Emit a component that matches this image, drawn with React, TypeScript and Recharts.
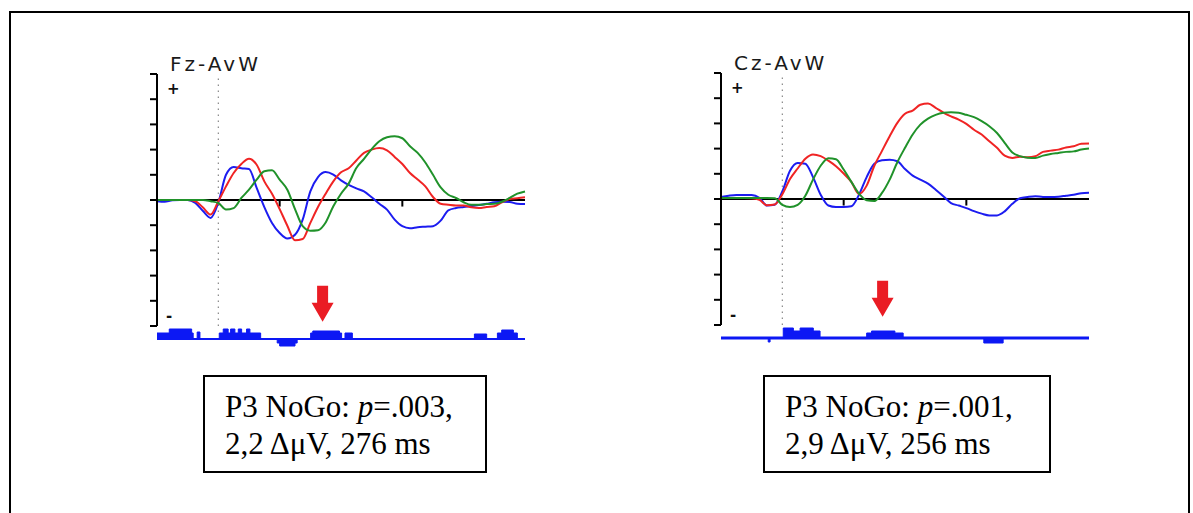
import { Area, AreaChart, Line, LineChart, ReferenceDot, ReferenceLine, XAxis, YAxis } from "recharts";

// time axis (ms) shared by every trace
const times = [
  -200, -175, -150, -125, -100, -75, -50, -25, 0, 25, 50, 75, 100, 125, 150, 175, 200, 225, 250, 275, 300, 325, 350, 375,
  400, 425, 450, 475, 500, 525, 550, 575, 600, 625, 650, 675, 700, 725, 750, 775, 800, 825, 850, 875, 900, 925, 950, 975, 1000,
];

// Fz-AvW (µV)
const fzBlue = [
  -0.05, -0.07, -0.01, 0, 0, -0.12, -0.44, -0.71, -0.1, 1.0, 1.31, 1.26, 1.23, 0.48, -0.28, -0.91, -1.31, -1.53, -1.38, -0.78,
  0.34, 0.91, 1.11, 1.01, 0.78, 0.6, 0.46, 0.34, 0.11, -0.15, -0.38, -0.78, -1.04, -1.12, -1.08, -1.06, -1.04, -0.82, -0.41,
  -0.32, -0.28, -0.24, -0.2, -0.15, -0.09, -0.07, -0.08, -0.15, -0.16,
];
const fzRed = [
  0, 0, 0, 0, 0, -0.05, -0.3, -0.58, -0.05, 0.54, 1.07, 1.43, 1.64, 1.4, 0.74, 0.25, -0.36, -1.02, -1.6, -1.55, -0.91, -0.28,
  0.25, 0.74, 1.1, 1.26, 1.57, 1.87, 2.0, 2.06, 1.97, 1.71, 1.43, 1.07, 0.81, 0.54, 0.12, -0.15, -0.19, -0.22, -0.22, -0.29,
  -0.32, -0.28, -0.25, -0.09, 0.04, 0.07, 0.11,
];
const fzGreen = [
  0, 0, 0, 0, 0, 0, 0, -0.05, -0.12, -0.38, -0.32, 0.08, 0.41, 0.81, 1.14, 1.18, 0.81, 0.41, -0.36, -1.04, -1.22, -1.2, -0.89,
  -0.25, 0.25, 0.65, 1.27, 1.63, 2.02, 2.33, 2.49, 2.53, 2.45, 2.13, 1.87, 1.49, 1.0, 0.5, 0.21, 0.08, -0.09, -0.19, -0.19,
  -0.16, -0.15, -0.07, 0.08, 0.25, 0.34,
];

// Cz-AvW (µV)
const czBlue = [
  0.08, 0.13, 0.16, 0.16, 0.16, 0.05, -0.26, -0.23, 0.3, 1.12, 1.43, 1.4, 0.87, 0.17, -0.26, -0.32, -0.32, -0.29, 0.17, 0.87,
  1.4, 1.54, 1.56, 1.5, 1.19, 0.93, 0.77, 0.61, 0.37, 0.11, -0.16, -0.26, -0.36, -0.48, -0.58, -0.65, -0.65, -0.49, -0.19,
  0.03, 0.08, 0.11, 0.08, 0.08, 0.09, 0.13, 0.17, 0.23, 0.25,
];
const czRed = [
  0.04, 0.04, 0.04, 0.04, 0.03, -0.03, -0.25, -0.22, 0.19, 0.79, 1.21, 1.6, 1.77, 1.7, 1.52, 1.3, 1.01, 0.68, 0.2, 0.53, 1.32,
  1.91, 2.49, 3.02, 3.38, 3.51, 3.74, 3.79, 3.62, 3.43, 3.28, 3.15, 2.98, 2.75, 2.56, 2.29, 2.03, 1.72, 1.63, 1.68, 1.66, 1.7,
  1.87, 1.92, 1.96, 2.04, 2.09, 2.19, 2.2,
];
const czGreen = [
  0.04, 0.04, 0.04, 0.04, 0.04, 0.04, 0.04, 0.03, -0.23, -0.32, -0.23, 0.13, 0.77, 1.32, 1.62, 1.58, 1.17, 0.68, 0.21, -0.05,
  -0.08, 0.24, 0.77, 1.46, 2.03, 2.56, 2.95, 3.19, 3.34, 3.42, 3.44, 3.42, 3.34, 3.25, 3.09, 2.89, 2.62, 2.23, 1.85, 1.7, 1.64,
  1.63, 1.72, 1.79, 1.83, 1.87, 1.89, 1.96, 2.0,
];

// significance strips under the plots (step levels)
const fzSigTimes = [
  -200, -160, -87, -82, -69, -60, 3, 16, 32, 40, 54, 65, 76, 92, 103, 138, 192, 200, 250, 257, 301, 308, 395, 402, 413, 437,
  835, 875, 910, 924, 962, 975, 1000,
];
const fzSigLevels = [6, 10, 6, 0, 7, 0, 6, 10, 6, 10, 6, 10, 6, 10, 6, 0, -4, -7, -4, 0, 6, 8, 6, 0, 6, 0, 5, 0, 6, 9, 6, 0, 0];
const czSigTimes = [-200, -46, -40, 3, 36, 58, 101, 123, 275, 291, 367, 394, 657, 720, 1000];
const czSigLevels = [0, -4, 0, 10, 7, 10, 7, 0, 5, 7, 5, 0, -5, 0, 0];

const voltTicks = [-5, -4, -3, -2, -1, 0, 1, 2, 3, 4, 5];
const timeTicks = [200, 600];

const RED = "#f02424";
const GREEN = "#20922a";
const BLUE = "#1c1cf0";
const SIG = "#0c18f4";

const Arrow = ({ cx, cy }: { cx?: number; cy?: number }) => {
  if (cx == null || cy == null) return null;
  const pts = [
    [cx, cy],
    [cx - 11, cy - 19],
    [cx - 5.5, cy - 19],
    [cx - 5.5, cy - 36],
    [cx + 5.5, cy - 36],
    [cx + 5.5, cy - 19],
    [cx + 11, cy - 19],
  ];
  return <polygon points={pts.map((p) => p.join(",")).join(" ")} fill="#ea1c24" />;
};

const signStyle = {
  position: "absolute" as const,
  fontFamily: "'DejaVu Sans', sans-serif",
  fontSize: 15,
  fontWeight: 700,
  lineHeight: "15px",
  color: "#111",
  zIndex: 2,
};

function ErpPanel({
  left,
  top,
  title,
  blue,
  red,
  green,
  sigTimes,
  sigLevels,
  sigWidth,
  arrowTime,
  arrowTip,
}: {
  left: number;
  top: number;
  title: string;
  blue: number[];
  red: number[];
  green: number[];
  sigTimes: number[];
  sigLevels: number[];
  sigWidth: number;
  arrowTime: number;
  arrowTip: number;
}) {
  const data = times.map((t, i) => ({ t, blue: blue[i], red: red[i], green: green[i] }));
  const sig = sigTimes.map((t, i) => ({ t, level: sigLevels[i] }));
  return (
    <>
      <div
        style={{
          position: "absolute",
          left: left + 13,
          top: top - 20,
          fontFamily: "'DejaVu Sans', sans-serif",
          fontSize: 20,
          lineHeight: "20px",
          letterSpacing: 3,
          color: "#1a1a1a",
          whiteSpace: "nowrap",
        }}
      >
        {title}
      </div>
      <div style={{ ...signStyle, left: left + 10, top: top + 8 }}>+</div>
      <div style={{ ...signStyle, left: left + 9, top: top + 235 }}>-</div>
      <div style={{ position: "absolute", left: left - 17, top: top - 14 }}>
        <LineChart width={400} height={280} data={data} margin={{ top: 14, right: 15, bottom: 14, left: 0 }}>
          <XAxis dataKey="t" type="number" domain={[-200, 1000]} hide />
          <YAxis
            domain={[-5, 5]}
            ticks={voltTicks}
            interval={0}
            width={17}
            tick={() => <g />}
            tickSize={7}
            axisLine={{ stroke: "#000", strokeWidth: 2 }}
            tickLine={{ stroke: "#000", strokeWidth: 2 }}
          />
          <ReferenceLine x={0} stroke="#888" strokeDasharray="1.5 4.5" strokeWidth={1.2} />
          <ReferenceLine y={0} stroke="#000" strokeWidth={2} />
          {timeTicks.map((t) => (
            <ReferenceLine key={t} segment={[{ x: t, y: 0 }, { x: t, y: -0.26 }]} stroke="#000" strokeWidth={2} />
          ))}
          <Line type="monotone" dataKey="blue" stroke={BLUE} strokeWidth={2} dot={false} isAnimationActive={false} />
          <Line type="monotone" dataKey="red" stroke={RED} strokeWidth={2} dot={false} isAnimationActive={false} />
          <Line type="monotone" dataKey="green" stroke={GREEN} strokeWidth={2} dot={false} isAnimationActive={false} />
          <ReferenceDot x={arrowTime} y={arrowTip} r={0} shape={<Arrow />} />
        </LineChart>
      </div>
      <div style={{ position: "absolute", left: left - 17, top: top + 246 }}>
        <AreaChart width={400} height={40} data={sig} margin={{ top: 6, right: 15, bottom: 8, left: 17 }}>
          <XAxis dataKey="t" type="number" domain={[-200, 1000]} hide />
          <YAxis domain={[-13, 13]} hide />
          <Area type="stepAfter" dataKey="level" baseValue={0} stroke={SIG} strokeWidth={1} fill={SIG} fillOpacity={1} isAnimationActive={false} />
          <ReferenceLine y={0} stroke={SIG} strokeWidth={sigWidth} />
        </AreaChart>
      </div>
    </>
  );
}

function StatBox({ left, width, pText, rest }: { left: number; width: number; pText: string; rest: string }) {
  return (
    <div
      style={{
        position: "absolute",
        left,
        top: 375,
        width,
        height: 98,
        boxSizing: "border-box",
        border: "2px solid #000",
        padding: "11px 0 0 20px",
        fontFamily: "'Liberation Serif', 'Times New Roman', serif",
        fontSize: 31,
        lineHeight: "37px",
        color: "#000",
        whiteSpace: "nowrap",
      }}
    >
      <div>
        P3 NoGo: <i>p</i>={pText},
      </div>
      <div>{rest}</div>
    </div>
  );
}

export default function App() {
  return (
    <div style={{ position: "absolute", left: 0, top: 0, width: 1193, height: 513, overflow: "hidden", background: "#fff" }}>
      <div style={{ position: "absolute", left: 9, top: 11, width: 1181, height: 540, boxSizing: "border-box", border: "2px solid #000" }} />
      <ErpPanel
        left={157}
        top={74}
        title="Fz-AvW"
        blue={fzBlue}
        red={fzRed}
        green={fzGreen}
        sigTimes={fzSigTimes}
        sigLevels={fzSigLevels}
        sigWidth={2}
        arrowTime={340}
        arrowTip={-4.83}
      />
      <ErpPanel
        left={721}
        top={73}
        title="Cz-AvW"
        blue={czBlue}
        red={czRed}
        green={czGreen}
        sigTimes={czSigTimes}
        sigLevels={czSigLevels}
        sigWidth={3}
        arrowTime={327}
        arrowTip={-4.67}
      />
      <StatBox left={203} width={284} pText=".003" rest="2,2 ΔμV, 276 ms" />
      <StatBox left={763} width={288} pText=".001" rest="2,9 ΔμV, 256 ms" />
    </div>
  );
}
